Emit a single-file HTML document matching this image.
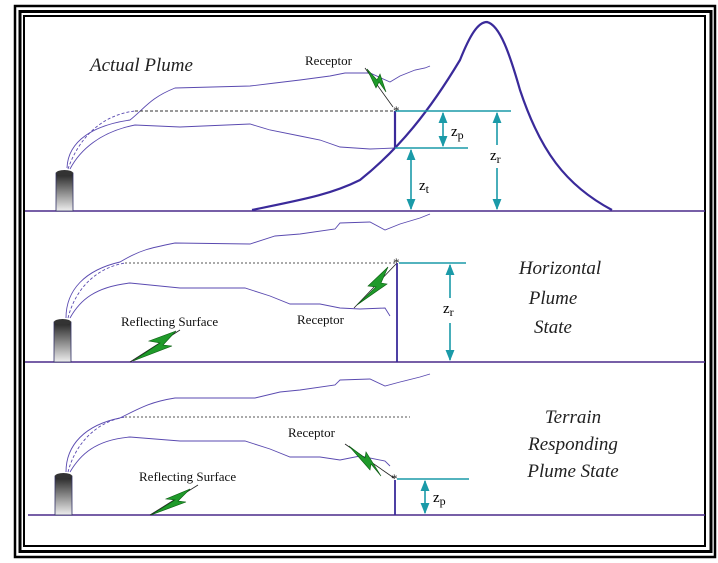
<!DOCTYPE html>
<html><head><meta charset="utf-8"><style>
html,body{margin:0;padding:0;background:#fff;}
svg{display:block;}
text{font-family:"Liberation Serif",serif;}
.it{font-style:italic;font-size:19px;fill:#222;}
.lb{font-size:13px;fill:#111;}
.bolt{fill:#1f9a2a;stroke:#0a5a10;stroke-width:0.6;}
</style></head><body>
<svg width="718" height="563" viewBox="0 0 718 563" xmlns="http://www.w3.org/2000/svg">
<defs>
<linearGradient id="stk" x1="0" y1="0" x2="0" y2="1">
<stop offset="0" stop-color="#222"/><stop offset="1" stop-color="#eee"/></linearGradient>
<marker id="ar" viewBox="0 0 10 10" refX="9" refY="5" markerWidth="7" markerHeight="9" orient="auto-start-reverse">
<path d="M0,1 L10,5 L0,9 z" fill="#1a9aa8"/></marker>
</defs>
<!-- frame -->
<rect x="15" y="6" width="700" height="551" fill="none" stroke="#000" stroke-width="2.5"/>
<rect x="20" y="11.5" width="691" height="540" fill="none" stroke="#000" stroke-width="3"/>
<rect x="24" y="16" width="681" height="530" fill="none" stroke="#000" stroke-width="2"/>

<!-- grounds -->
<g stroke="#4a2a8a" stroke-width="1.6">
<line x1="25" y1="211" x2="705" y2="211"/>
<line x1="25" y1="362" x2="705" y2="362"/>
<line x1="28" y1="515" x2="705" y2="515"/>
</g>

<!-- PANEL 1 -->
<rect x="56" y="173" width="17" height="38" fill="url(#stk)" stroke="#336" stroke-width="0.8"/>
<ellipse cx="64.5" cy="173" rx="8.5" ry="3" fill="#333"/>
<g fill="none" stroke="#5a4ab0" stroke-width="0.9">
<path d="M67,168 C68,140 95,125 130,120 C145,108 150,98 175,88 L250,86 L275,83 L300,80 L330,76 L345,73 L370,73 L390,82 L400,76 L415,70 L425,68 L430,66"/>
<path d="M70,169 C80,150 100,132 135,125 L180,127 L250,124 L270,130 L300,136 L320,140 L340,147 L370,149 L395,148"/>
<path d="M68,169 C78,140 100,115 135,111" stroke-dasharray="3,2"/>
<line x1="135" y1="111" x2="395" y2="111" stroke="#333" stroke-dasharray="3,2"/>
</g>
<path d="M252,210 C300,200 330,195 360,180 C400,148 430,110 460,60 C470,35 478,22 487,22 C500,25 510,55 520,90 C540,150 565,185 612,210" fill="none" stroke="#3a2a9a" stroke-width="2.2"/>
<line x1="395" y1="111" x2="395" y2="148" stroke="#3a2a9a" stroke-width="2.2"/>
<g stroke="#1a9aa8" stroke-width="1.6" fill="none">
<line x1="395" y1="111" x2="511" y2="111"/>
<line x1="395" y1="148" x2="468" y2="148"/>
<line x1="443" y1="113" x2="443" y2="146" marker-start="url(#ar)" marker-end="url(#ar)"/>
<line x1="497" y1="113" x2="497" y2="145" marker-start="url(#ar)"/>
<line x1="497" y1="168" x2="497" y2="209" marker-end="url(#ar)"/>
<line x1="411" y1="150" x2="411" y2="209" marker-start="url(#ar)" marker-end="url(#ar)"/>
</g>
<text x="393" y="115" font-size="13" fill="#222">*</text>
<text x="451" y="136" font-size="15">z<tspan font-size="12" dy="3">p</tspan></text>
<text x="490" y="160" font-size="15">z<tspan font-size="12" dy="3">r</tspan></text>
<text x="419" y="190" font-size="15">z<tspan font-size="12" dy="3">t</tspan></text>
<text x="90" y="71" class="it">Actual Plume</text>
<text x="305" y="65" class="lb">Receptor</text>
<line x1="365" y1="68" x2="393" y2="107" stroke="#222" stroke-width="0.8"/>
<polygon class="bolt" points="367,69 377,80 380,74 386,92 379,82 376,88"/>

<!-- PANEL 2 -->
<rect x="54" y="322" width="17" height="40" fill="url(#stk)" stroke="#336" stroke-width="0.8"/>
<ellipse cx="62.5" cy="322" rx="8.5" ry="3" fill="#333"/>
<g fill="none" stroke="#5a4ab0" stroke-width="0.9">
<path d="M66,318 C66,290 85,270 120,262 C140,250 150,248 175,243 L250,244 L275,236 L300,234 L335,229 L340,223 L370,222 L385,230 L400,224 L420,218 L430,214"/>
<path d="M70,318 C80,300 95,287 130,283 L180,288 L245,288 L270,296 L290,304 L320,304 L340,308 L360,309 L385,308 L390,316"/>
<path d="M68,318 C75,290 95,268 125,263" stroke-dasharray="3,2"/>
<line x1="125" y1="263" x2="397" y2="263" stroke="#555" stroke-dasharray="2,2"/>
</g>
<line x1="397" y1="263" x2="397" y2="362" stroke="#3a2a9a" stroke-width="1.8"/>
<g stroke="#1a9aa8" stroke-width="1.6" fill="none">
<line x1="399" y1="263" x2="466" y2="263"/>
<line x1="450" y1="265" x2="450" y2="298" marker-start="url(#ar)"/>
<line x1="450" y1="323" x2="450" y2="360" marker-end="url(#ar)"/>
</g>
<text x="393" y="267" font-size="13" fill="#222">*</text>
<text x="443" y="313" font-size="15">z<tspan font-size="12" dy="3">r</tspan></text>
<text x="560" y="274" class="it" text-anchor="middle">Horizontal</text>
<text x="553" y="304" class="it" text-anchor="middle">Plume</text>
<text x="553" y="333" class="it" text-anchor="middle">State</text>
<text x="121" y="326" class="lb">Reflecting Surface</text>
<line x1="130" y1="362" x2="180" y2="330" stroke="#222" stroke-width="0.8"/>
<polygon class="bolt" points="133,361 160,343 149,341 176,331 163,345 172,346"/>
<text x="297" y="324" class="lb">Receptor</text>
<line x1="354" y1="308" x2="396" y2="264" stroke="#222" stroke-width="0.8"/>
<polygon class="bolt" points="357,305 376,287 368,286 388,267 381,283 387,284"/>

<!-- PANEL 3 -->
<rect x="55" y="476" width="17" height="39" fill="url(#stk)" stroke="#336" stroke-width="0.8"/>
<ellipse cx="63.5" cy="476" rx="8.5" ry="3" fill="#333"/>
<g fill="none" stroke="#5a4ab0" stroke-width="0.9">
<path d="M66,472 C66,445 85,425 120,418 C140,408 150,402 175,398 L255,398 L280,392 L300,390 L335,385 L340,380 L370,379 L385,386 L400,382 L420,377 L430,374"/>
<path d="M70,472 C80,455 95,440 130,437 L180,441 L245,441 L270,449 L290,457 L320,457 L340,460 L360,456 L385,461 L390,466"/>
<path d="M68,472 C75,445 95,422 125,417" stroke-dasharray="3,2"/>
<line x1="125" y1="417" x2="410" y2="417" stroke="#555" stroke-dasharray="2,2"/>
</g>
<line x1="395" y1="480" x2="395" y2="515" stroke="#3a2a9a" stroke-width="1.8"/>
<g stroke="#1a9aa8" stroke-width="1.6" fill="none">
<line x1="397" y1="479" x2="469" y2="479"/>
<line x1="425" y1="481" x2="425" y2="513" marker-start="url(#ar)" marker-end="url(#ar)"/>
</g>
<text x="391" y="483" font-size="13" fill="#222">*</text>
<text x="433" y="502" font-size="15">z<tspan font-size="12" dy="3">p</tspan></text>
<text x="573" y="423" class="it" text-anchor="middle">Terrain</text>
<text x="573" y="450" class="it" text-anchor="middle">Responding</text>
<text x="573" y="477" class="it" text-anchor="middle">Plume State</text>
<text x="139" y="481" class="lb">Reflecting Surface</text>
<line x1="150" y1="515" x2="198" y2="485" stroke="#222" stroke-width="0.8"/>
<polygon class="bolt" points="151,515 175,500 166,499 190,489 178,501 186,502"/>
<text x="288" y="437" class="lb">Receptor</text>
<line x1="345" y1="444" x2="394" y2="478" stroke="#222" stroke-width="0.8"/>
<polygon class="bolt" points="349,446 365,458 366,452 381,476 371,464 370,470"/>
</svg>
</body></html>
